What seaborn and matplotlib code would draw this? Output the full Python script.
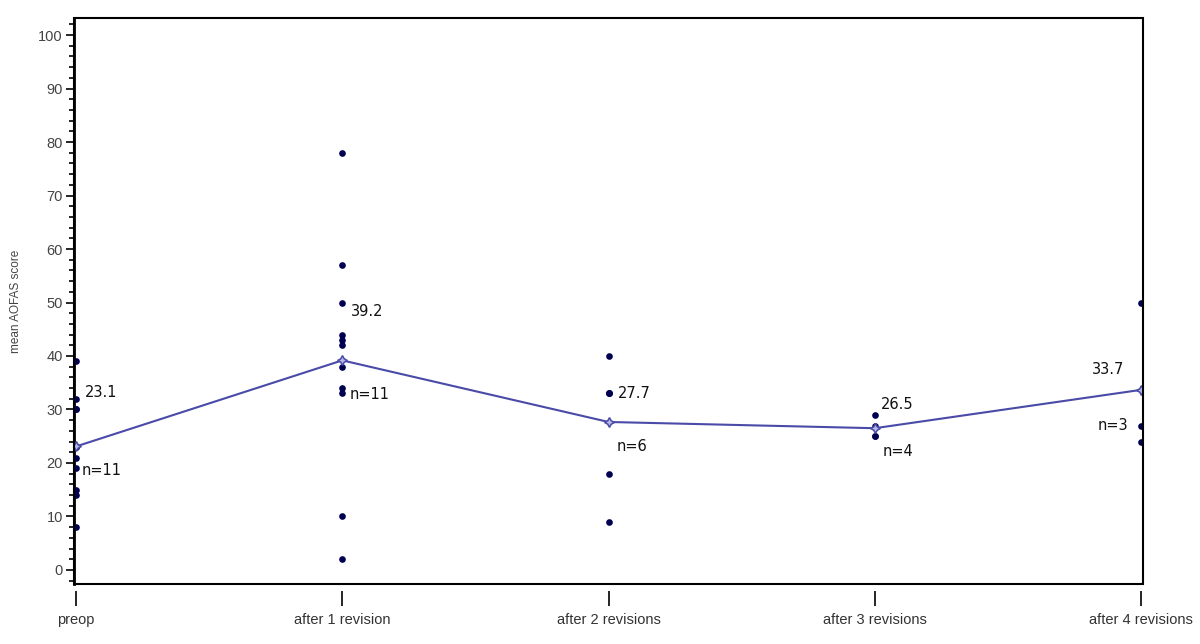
import numpy as np
import pandas as pd
import seaborn as sns
import matplotlib.pyplot as plt
from matplotlib.ticker import MultipleLocator
from matplotlib.patches import Rectangle

# individual AOFAS scores
stages = ['preop', 'after 1 revision', 'after 2 revisions', 'after 3 revisions', 'after 4 revisions']
preop = [39, 32, 30, 30, 23, 23, 21, 19, 15, 14, 8]
rev1 = [78, 57, 50, 44, 43, 42, 38, 34, 33, 10, 2]
rev2 = [40, 33, 33, 33, 18, 9]
rev3 = [29, 27, 25, 25]
rev4 = [50, 27, 24]

df = pd.DataFrame({
    'stage': np.repeat(stages, [len(preop), len(rev1), len(rev2), len(rev3), len(rev4)]),
    'score': preop + rev1 + rev2 + rev3 + rev4,
})
means = df.groupby('stage', sort=False)['score'].mean().reindex(stages)
counts = df.groupby('stage', sort=False)['score'].size().reindex(stages)

sns.set_style('white')
plt.rcParams['font.family'] = ['Liberation Sans Narrow', 'Liberation Sans', 'DejaVu Sans']

fig = plt.figure(figsize=(12, 6.44), dpi=100)
ax = fig.add_axes([0.0617, 0.0932, 0.8908, 0.8788])

sns.stripplot(data=df, x='stage', y='score', order=stages, jitter=False,
              color='#000050', size=4.8, marker='o', linewidth=0, ax=ax, zorder=3)
sns.pointplot(data=df, x='stage', y='score', order=stages, errorbar=None,
              color='#4a4aa8', markers=(4, 1, 0), markersize=7, linewidth=1.5,
              markerfacecolor='#b8b8e8', markeredgecolor='#4a4aa8', ax=ax, zorder=4)

# mean and n labels (offsets in pixels)
offsets = [((9, 54), (6, -24), 'left'),
           ((9, 49), (7, -34), 'left'),
           ((9, 28), (8, -25), 'left'),
           ((6, 24), (8, -23), 'left'),
           ((-17, 20), (-13, -36), 'right')]
for i, s in enumerate(stages):
    (mo, no, ha) = offsets[i]
    ax.annotate(f'{means[s]:.1f}', (i, means[s]), xytext=mo, textcoords='offset pixels',
                ha=ha, va='center', fontsize=10.5, family='DejaVu Sans', color='#111111')
    ax.annotate(f'n={counts[s]}', (i, means[s]), xytext=no, textcoords='offset pixels',
                ha=ha, va='center', fontsize=10.5, family='DejaVu Sans', color='#111111')

ax.set_xlim(-0.0075, 4.0075)
ax.set_ylim(-2.62, 103.18)
ax.yaxis.set_major_locator(MultipleLocator(10))
ax.yaxis.set_minor_locator(MultipleLocator(2))
ax.set_xlabel('')
ax.set_ylabel('mean AOFAS score', fontsize=8.5, color='#444444', labelpad=12)

ax.tick_params(axis='y', which='major', left=True, length=6, width=1.2, color='black',
               labelsize=10.5, labelcolor='#444444', pad=2)
ax.tick_params(axis='y', which='minor', left=True, length=3.5, width=1.2, color='black')
ax.tick_params(axis='x', which='major', bottom=True, length=11, width=1.2, color='black',
               labelsize=10.5, labelcolor='#333333', pad=5)

# box around the plot, x ticks hang detached below it
for side in ['top', 'right', 'left', 'bottom']:
    ax.spines[side].set_visible(False)
ax.spines['left'].set_visible(True)
ax.spines['left'].set_linewidth(2)
ax.spines['left'].set_color('black')
ax.spines['bottom'].set_position(('outward', 5))
ax.add_patch(Rectangle((0, 0), 1, 1, transform=ax.transAxes, fill=False,
                       edgecolor='black', linewidth=1.5, clip_on=False, zorder=5))

fig.savefig('out.png', dpi=100)
